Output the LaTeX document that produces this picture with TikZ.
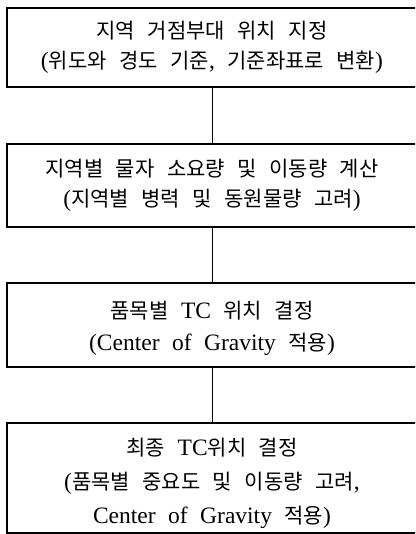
\documentclass[tikz,border=0pt]{standalone}
\usepackage{fontspec}
\setmainfont{Liberation Serif}
\newfontfamily\krfont{Noto Sans CJK KR}
\newcommand\K[1]{{\krfont\fontsize{21}{30}\selectfont #1}}
\newcommand\boxfont[1]{\fontsize{23.5}{#1}\selectfont\spaceskip 12.5pt\relax}
\tikzset{
  frame/.style={draw=black, line width=1.2pt, minimum width=410pt, inner sep=0pt},
  txt/.style={inner sep=0pt, align=center, font=\boxfont{30}},
  link/.style={draw=black, line width=0.9pt}
}
\begin{document}
\begin{tikzpicture}
\useasboundingbox (0,0) rectangle (415pt,-534pt);
\clip (0,0) rectangle (415pt,-534pt);
\node[frame, minimum height=79pt] (b1) at (212pt,-47.5pt) {};
\node[txt] (t1) at (b1.center)
  {\K{지역 거점부대 위치 지정}\\(\K{위도와 경도 기준}, \K{기준좌표로 변환})};
\node[frame, minimum height=83pt] (b2) at (212pt,-185.5pt) {};
\node[txt] (t2) at (b2.center)
  {\K{지역별 물자 소요량 및 이동량 계산}\\(\K{지역별 병력 및 동원물량 고려})};
\node[frame, minimum height=84pt] (b3) at (212pt,-325pt) {};
\node[txt, font=\boxfont{32}, yshift=-3pt] (t3) at (b3.center)
  {\K{품목별} TC \K{위치 결정}\\(Center of Gravity \K{적용})};
\node[frame, minimum height=110pt] (b4) at (212pt,-478pt) {};
\node[txt, font=\boxfont{34}, yshift=-5pt] (t4) at (b4.center)
  {\K{최종} TC\K{위치 결정}\\(\K{품목별 중요도 및 이동량 고려},\\Center of Gravity \K{적용})};
\draw[link] (b1.south) -- (b2.north);
\draw[link] (b2.south) -- (b3.north);
\draw[link] (b3.south) -- (b4.north);
\end{tikzpicture}
\end{document}
